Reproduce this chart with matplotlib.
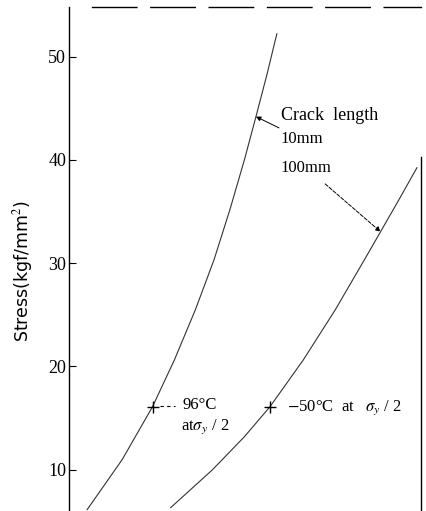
import matplotlib.pyplot as plt
from matplotlib.ticker import FixedLocator

plt.rcParams['font.family'] = ['Liberation Serif', 'DejaVu Serif']
plt.rcParams['mathtext.fontset'] = 'stix'

# temperature (deg C) vs stress (kgf/mm2)
temp_10mm = [-121.6, -107.9, -96.0, -87.4, -79.2, -71.9, -65.7, -60.0, -55.5, -51.2, -47.3]
stress_10mm = [6.13, 10.97, 16.10, 20.65, 25.50, 30.34, 35.18, 40.02, 44.19, 48.26, 52.23]

temp_100mm = [-88.9, -72.5, -60.0, -50.0, -36.9, -24.4, -13.0, -6.7, 0.5, 7.55]
stress_100mm = [6.32, 10.0, 13.20, 16.10, 20.65, 25.50, 30.34, 33.05, 36.15, 39.25]

# points at sigma_y / 2
mark_temp = [-96.0, -50.0]
mark_stress = [16.1, 16.1]

yticks = [10, 20, 30, 40, 50]

fig = plt.figure(figsize=(4.26, 5.11), dpi=100)
ax = fig.add_axes([0.162, 0.0, 0.826, 0.986])

ax.plot(temp_10mm, stress_10mm, color='#333333', lw=0.8)
ax.plot(temp_100mm, stress_100mm, color='#333333', lw=0.8)
ax.plot(mark_temp, mark_stress, ls='none', marker='+', ms=9, mew=1.0, color='black')

ax.set_xlim(-128.7, 9.1)
ax.set_ylim(6.0, 54.8)

ax.set_xticks([])
ax.yaxis.set_major_locator(FixedLocator(yticks))
ax.tick_params(axis='y', direction='in', length=5, width=0.8, labelsize=13, pad=2)

ax.spines['bottom'].set_visible(False)
ax.spines['left'].set_linewidth(1.0)
ax.spines['right'].set_linewidth(1.0)
ax.spines['right'].set_bounds(6.0, 40.3)
ax.spines['top'].set_linewidth(1.0)
ax.spines['top'].set_linestyle((0, (32, 10)))
ax.spines['top'].set_bounds(-119.7, 9.1)

ax.set_ylabel('Stress(kgf/mm$^2$)', fontsize=12.5, family='DejaVu Sans')
ax.yaxis.set_label_coords(-0.097, 0.477)

ax.text(-45.7, 44.3, 'Crack  length', fontsize=13, va='center', ha='left')
ax.annotate('10mm', xy=(-55.5, 44.2), xytext=(-45.7, 42.0), fontsize=12,
            va='center', ha='left',
            arrowprops=dict(arrowstyle='-|>', color='black', lw=0.7,
                            mutation_scale=7, shrinkA=1, shrinkB=0))
ax.annotate('100mm', xy=(-6.7, 33.05), xytext=(-45.7, 39.25), fontsize=12,
            va='center', ha='left',
            arrowprops=dict(arrowstyle='-|>', color='black', lw=0.7, ls='--',
                            mutation_scale=7, shrinkA=6, shrinkB=0))

ax.plot([-93.1, -87.2], [16.2, 16.2], color='black', lw=0.8, ls=(0, (3, 3)))
ax.text(-84.4, 16.3, '96°C', fontsize=12, va='center', ha='left')
ax.text(-85.0, 14.2, r'at$\sigma_y$ / 2', fontsize=12, va='center', ha='left')
ax.text(-43.3, 16.0, r'$-$50°C  at   $\sigma_y$ / 2', fontsize=12, va='center', ha='left')

fig.savefig('out.png', dpi=100)
